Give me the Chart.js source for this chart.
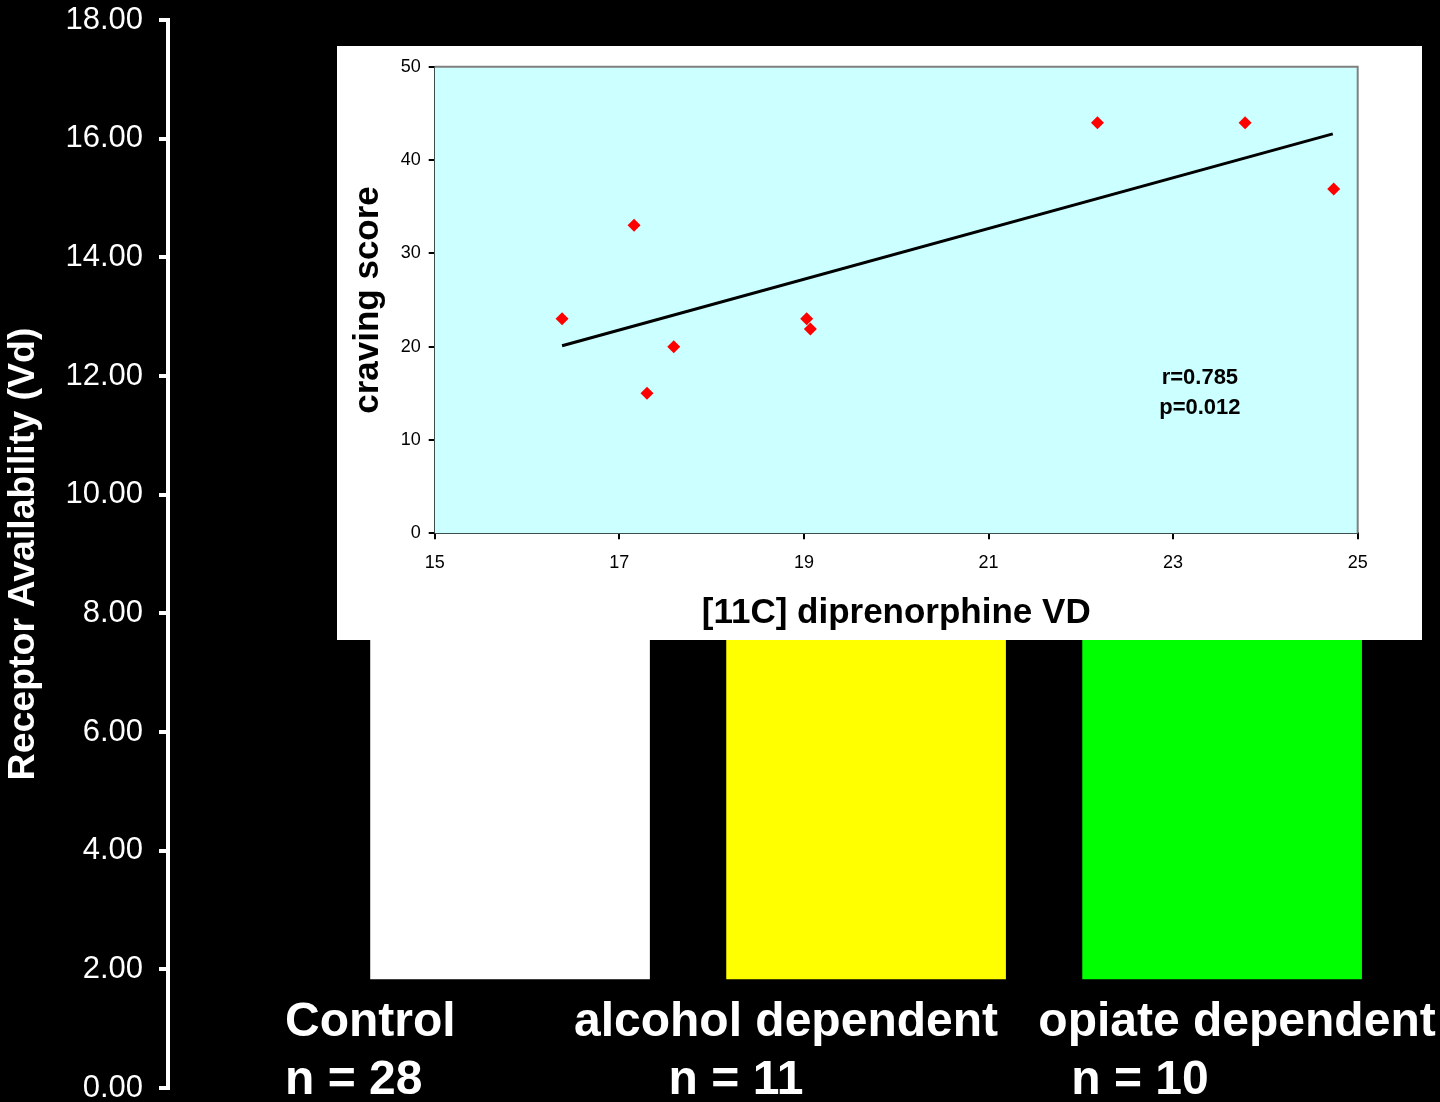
<!DOCTYPE html>
<html>
<head>
<meta charset="utf-8">
<script src="https://cdn.jsdelivr.net/npm/chart.js@4/dist/chart.umd.min.js"></script>
<style>
  html, body { margin: 0; padding: 0; background: #000; overflow: hidden; }
  #wrap { position: relative; width: 1440px; height: 1102px; }
  #mainChart { position: absolute; left: 0; top: 0; }
  #inset { position: absolute; left: 337px; top: 46px; width: 1085px; height: 594px; background: #fff; }
</style>
</head>
<body>
<div id="wrap">
  <canvas id="mainChart" width="1440" height="1102"></canvas>
  <div id="inset"><canvas id="insetChart" width="1085" height="594"></canvas></div>
</div>
<script>
// bar chart data (group means, tops hidden under the inset)
const groups = ['Control', 'alcohol dependent', 'opiate dependent'];
const groupN = [28, 11, 10];
const barBase = 1.84;
const barTop = [12.2, 13.1, 12.6];
const yTicksMain = [0, 2, 4, 6, 8, 10, 12, 14, 16, 18];

// inset scatter: [11C] diprenorphine VD vs craving score
const vdValues = [16.38, 17.16, 17.30, 17.59, 19.03, 19.07, 22.18, 23.78, 24.74];
const craving  = [23.0, 33.0, 15.0, 20.0, 23.0, 21.9, 44.0, 44.0, 36.9];
const trendX = [16.38, 24.73];
const trendY = [20.1, 42.8];
const statsLines = ['r=0.785', 'p=0.012'];
const statsAt = { x: 23.29, y: [16.65, 13.45] };

const barColors = ['#ffffff', '#ffff00', '#00ff00'];
const FONT = "'Liberation Sans', Arial, sans-serif";

// where the group captions sit (text boxes under the bars)
const captionLayout = [
    { nameX: 285, nameAlign: 'left', nX: 285, nAlign: 'left' },
    { nameX: 786, nameAlign: 'center', nX: 736, nAlign: 'center' },
    { nameX: 1237, nameAlign: 'center', nX: 1140, nAlign: 'center' }
];

const captionPlugin = {
    id: 'captions',
    afterDraw(chart) {
        const ctx = chart.ctx;
        ctx.save();
        ctx.fillStyle = '#fff';
        ctx.font = 'bold 48px ' + FONT;
        ctx.textBaseline = 'alphabetic';
        groups.forEach((g, i) => {
            const c = captionLayout[i];
            ctx.textAlign = c.nameAlign;
            ctx.fillText(g, c.nameX, 1036);
            ctx.textAlign = c.nAlign;
            ctx.fillText('n = ' + groupN[i], c.nX, 1094);
        });
        ctx.restore();
    }
};

new Chart(document.getElementById('mainChart'), {
    type: 'bar',
    data: {
        datasets: [{
            data: groups.map((g, i) => ({ x: i + 1, y: [barBase, barTop[i]] })),
            backgroundColor: barColors,
            borderWidth: 0,
            barThickness: 279
        }]
    },
    options: {
        responsive: false,
        animation: false,
        layout: { padding: { top: 20, bottom: 14, left: 0, right: 0 } },
        plugins: { legend: { display: false }, tooltip: { enabled: false } },
        scales: {
            x: { type: 'linear', min: 0.0393, max: 3.612, offset: false, display: false },
            y: {
                min: 0, max: 18,
                afterFit: s => { s.width = 168; s.paddingTop = 0; s.paddingBottom = 0; },
                afterBuildTicks: s => { s.ticks = yTicksMain.map(v => ({ value: v })); },
                ticks: {
                    color: '#fff',
                    font: { family: FONT, size: 31 },
                    padding: 16,
                    callback: v => Number(v).toFixed(2)
                },
                grid: { drawOnChartArea: false, color: '#fff', lineWidth: 4, tickLength: 9 },
                border: { color: '#fff', width: 4 },
                title: {
                    display: true,
                    text: 'Receptor Availability (Vd)',
                    color: '#fff',
                    font: { family: FONT, size: 37.5, weight: 'bold' },
                    padding: { top: 1, bottom: 0 }
                }
            }
        }
    },
    plugins: [captionPlugin]
});

const plotAreaPlugin = {
    id: 'plotArea',
    beforeDatasetsDraw(chart) {
        const { ctx, chartArea: a } = chart;
        ctx.save();
        ctx.fillStyle = '#ccffff';
        ctx.fillRect(a.left, a.top, a.right - a.left, a.bottom - a.top);
        ctx.strokeStyle = '#808080';
        ctx.lineWidth = 2;
        ctx.beginPath();
        ctx.moveTo(a.left, a.top);
        ctx.lineTo(a.right, a.top);
        ctx.lineTo(a.right, a.bottom);
        ctx.stroke();
        ctx.restore();
    },
    afterDraw(chart) {
        const { ctx, scales } = chart;
        ctx.save();
        ctx.fillStyle = '#000';
        ctx.font = 'bold 22px ' + FONT;
        ctx.textAlign = 'center';
        ctx.textBaseline = 'middle';
        statsLines.forEach((t, i) => {
            ctx.fillText(t, scales.x.getPixelForValue(statsAt.x), scales.y.getPixelForValue(statsAt.y[i]));
        });
        ctx.restore();
    }
};

new Chart(document.getElementById('insetChart'), {
    type: 'scatter',
    data: {
        datasets: [{
            type: 'line',
            data: trendX.map((x, i) => ({ x: x, y: trendY[i] })),
            borderColor: '#000',
            borderWidth: 3,
            pointRadius: 0,
            fill: false,
            order: 2
        }, {
            data: vdValues.map((x, i) => ({ x: x, y: craving[i] })),
            pointStyle: 'rectRot',
            pointRadius: 6.5,
            backgroundColor: '#ff0000',
            borderWidth: 0,
            order: 1
        }]
    },
    options: {
        responsive: false,
        animation: false,
        layout: { padding: { top: 20.7, right: 64.3, left: 0, bottom: 0 } },
        plugins: { legend: { display: false }, tooltip: { enabled: false } },
        scales: {
            x: {
                type: 'linear', min: 15, max: 25,
                afterFit: s => { s.height = 106.7; },
                ticks: { stepSize: 2, color: '#000', font: { family: FONT, size: 18 }, padding: 13 },
                grid: { drawOnChartArea: false, color: '#000', lineWidth: 2, tickLength: 6 },
                border: { color: '#000', width: 2 },
                title: {
                    display: true,
                    text: '[11C] diprenorphine VD',
                    color: '#000',
                    font: { family: FONT, size: 35, weight: 'bold' },
                    padding: { top: 0, bottom: 6 }
                }
            },
            y: {
                min: 0, max: 50,
                afterFit: s => { s.width = 97.7; },
                ticks: { stepSize: 10, color: '#000', font: { family: FONT, size: 18 }, padding: 8 },
                grid: { drawOnChartArea: false, color: '#000', lineWidth: 2, tickLength: 6 },
                border: { color: '#000', width: 2 },
                title: {
                    display: true,
                    text: 'craving score',
                    color: '#000',
                    font: { family: FONT, size: 35, weight: 'bold' },
                    padding: { top: 10, bottom: 0 }
                }
            }
        }
    },
    plugins: [plotAreaPlugin]
});
</script>
</body>
</html>
